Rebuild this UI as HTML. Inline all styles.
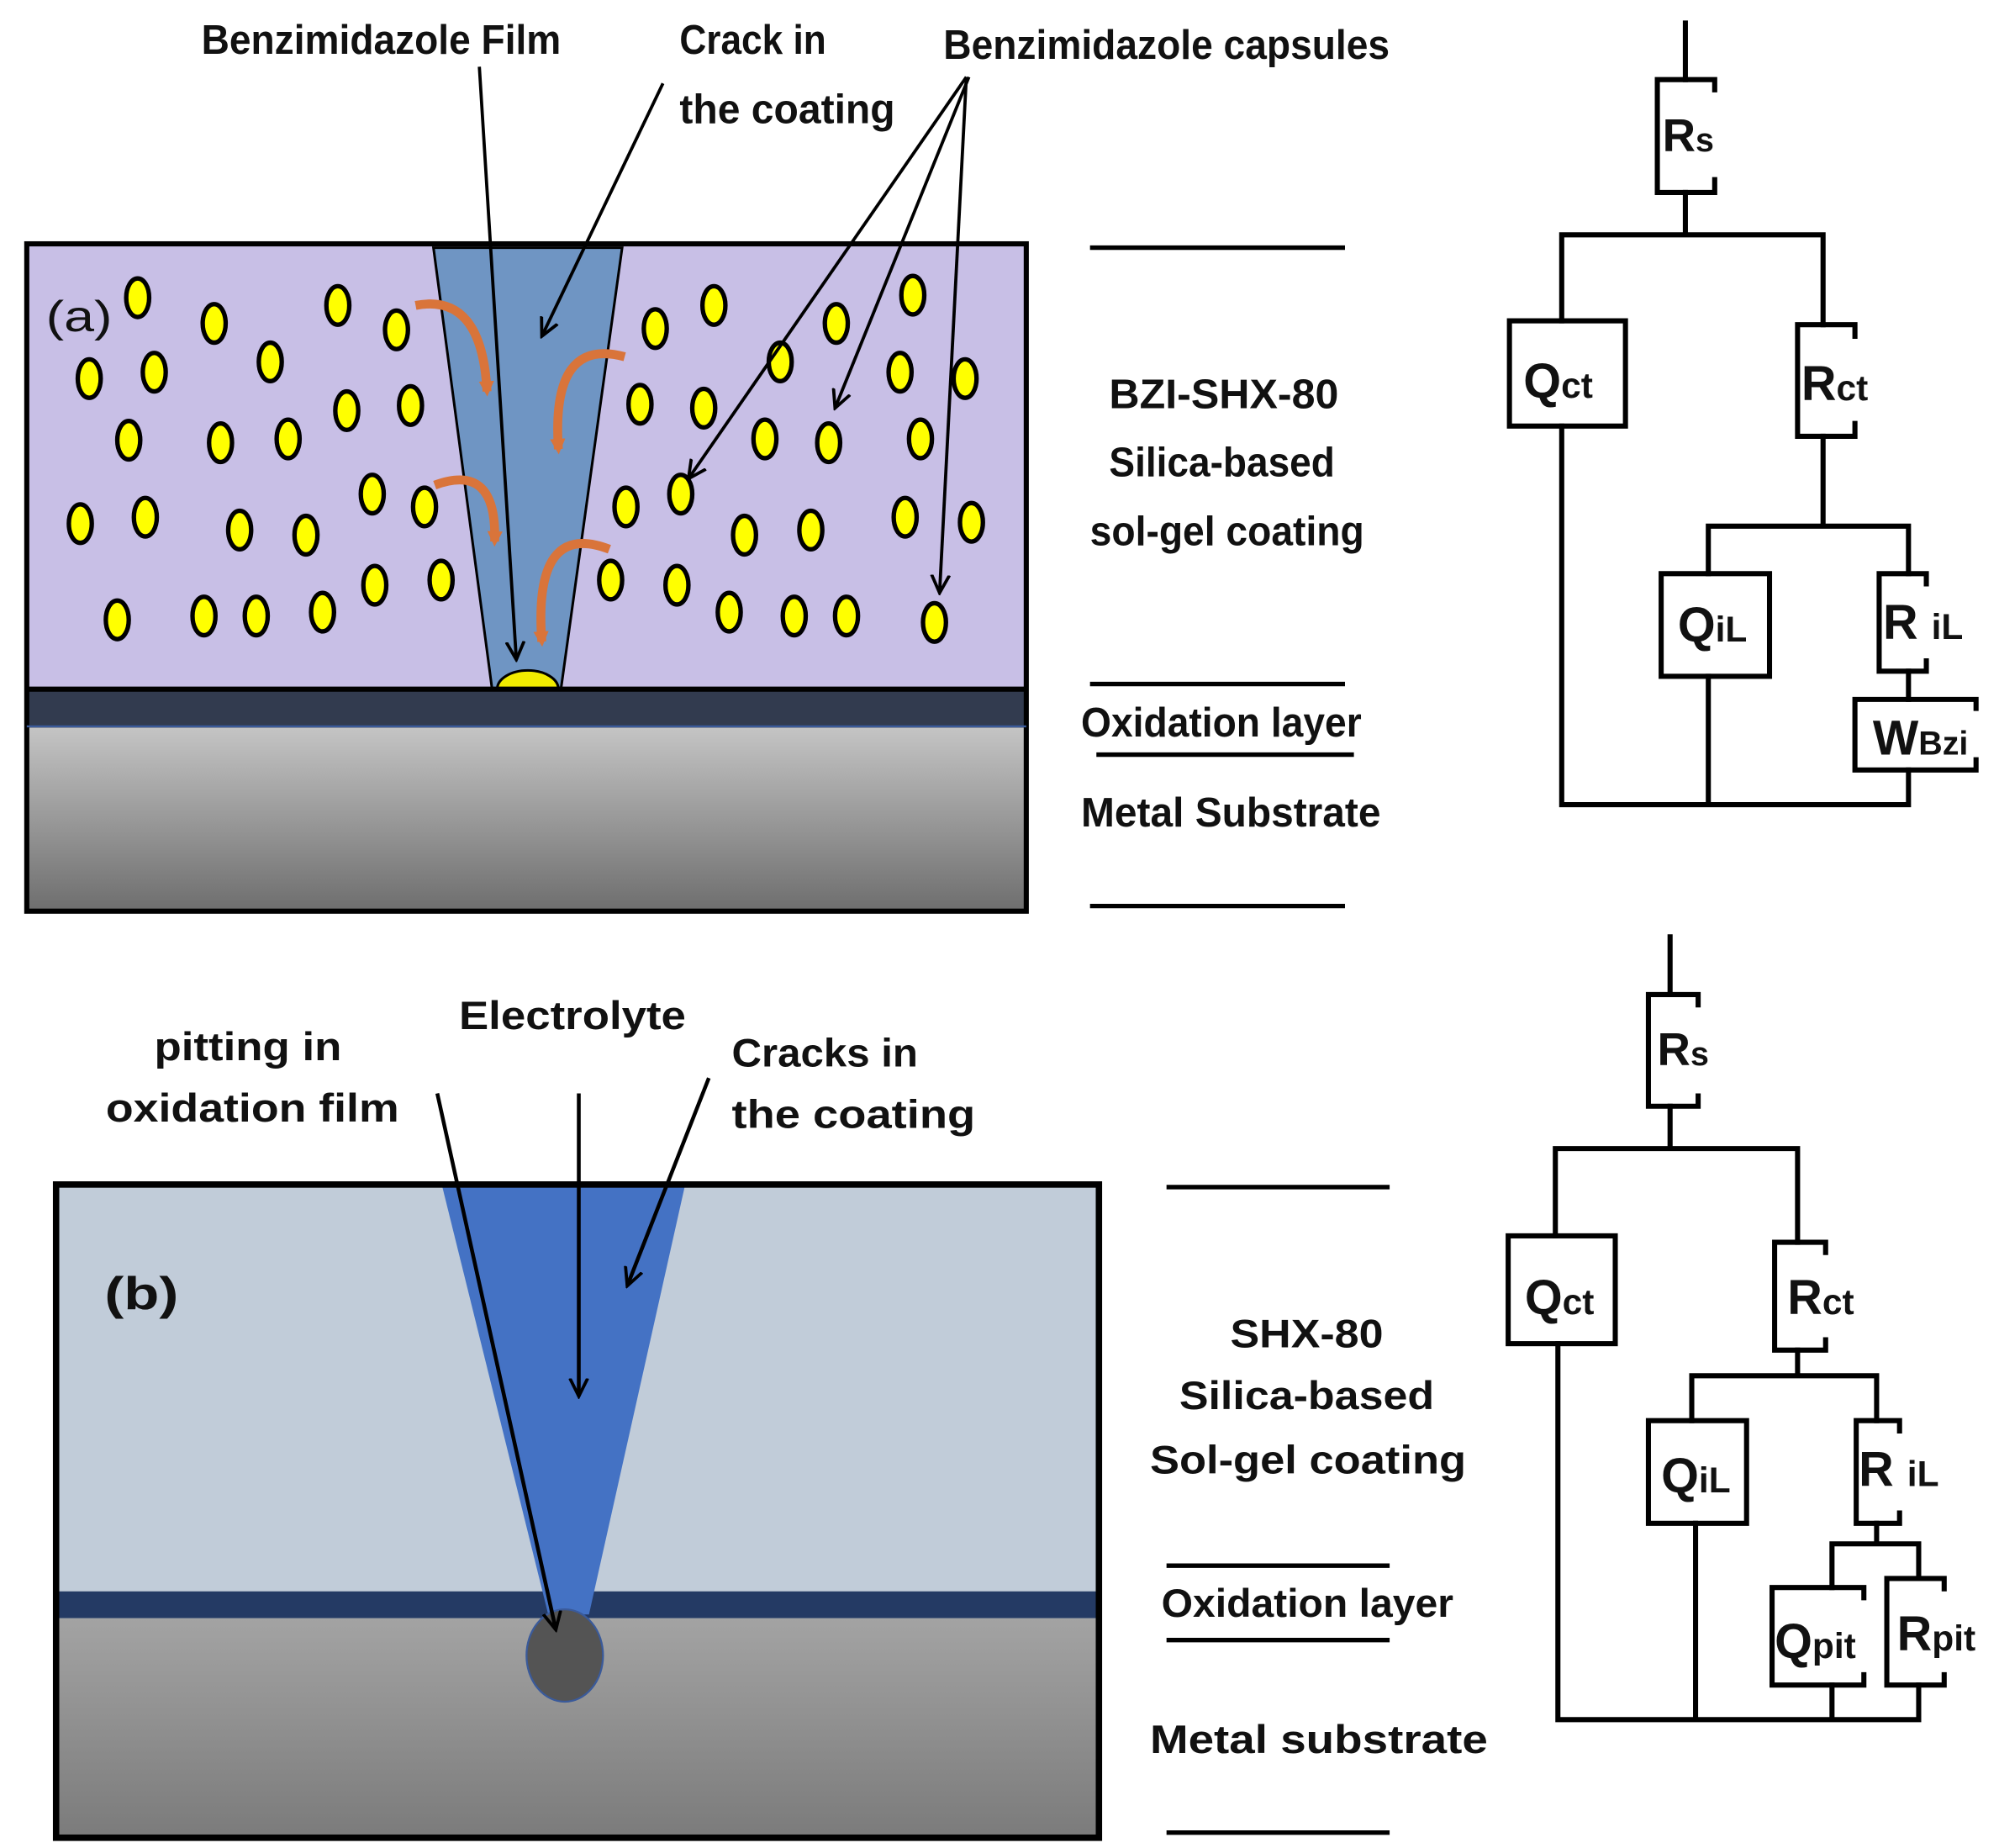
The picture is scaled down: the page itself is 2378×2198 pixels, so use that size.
<!DOCTYPE html>
<html><head><meta charset="utf-8"><style>html,body{margin:0;padding:0;background:#fff}svg{display:block}</style></head>
<body>
<svg width="2378" height="2198" viewBox="0 0 1568 1440" preserveAspectRatio="none" xmlns="http://www.w3.org/2000/svg">
<defs>
<linearGradient id="m1" x1="0" y1="0" x2="0" y2="1"><stop offset="0" stop-color="#c4c4c4"/><stop offset="1" stop-color="#6e6e6e"/></linearGradient>
<linearGradient id="m2" x1="0" y1="0" x2="0" y2="1"><stop offset="0" stop-color="#a3a3a3"/><stop offset="1" stop-color="#7b7b7b"/></linearGradient>
<marker id="ar" markerWidth="16" markerHeight="16" refX="14" refY="8" orient="auto" markerUnits="userSpaceOnUse"><path d="M0,1 L14,8 L0,15" fill="none" stroke="#000" stroke-width="2.5"/></marker>
<marker id="oa" markerWidth="14" markerHeight="14" refX="8" refY="7" orient="auto" markerUnits="userSpaceOnUse"><path d="M0,1 L12,7 L0,13 z" fill="#d9743a"/></marker>
</defs>
<g font-family="'Liberation Sans',sans-serif" font-weight="bold" fill="#111">
<!-- Panel a -->
<rect x="21" y="190" width="784" height="347" fill="#c8bfe6"/>
<rect x="21" y="537" width="784" height="30" fill="#323b4f"/>
<rect x="21" y="567" width="784" height="143" fill="url(#m1)"/>
<polygon points="340,193 488,193 440,537 386,537" fill="#6f95c3" stroke="#000" stroke-width="2"/>
<path d="M390,537 A23,14 0 0 1 438,537 Z" fill="#f2ec00" stroke="#000" stroke-width="2"/>
<rect x="21" y="190" width="784" height="520" fill="none" stroke="#000" stroke-width="4"/>
<line x1="21" y1="537" x2="805" y2="537" stroke="#000" stroke-width="4"/>
<line x1="21" y1="566" x2="805" y2="566" stroke="#3a5a9a" stroke-width="1.5"/>
<g fill="#ffff00" stroke="#000" stroke-width="3.5">
<ellipse cx="108" cy="232" rx="9" ry="15"/><ellipse cx="168" cy="252" rx="9" ry="15"/><ellipse cx="265" cy="238" rx="9" ry="15"/><ellipse cx="311" cy="257" rx="9" ry="15"/>
<ellipse cx="70" cy="295" rx="9" ry="15"/><ellipse cx="121" cy="290" rx="9" ry="15"/><ellipse cx="212" cy="282" rx="9" ry="15"/>
<ellipse cx="101" cy="343" rx="9" ry="15"/><ellipse cx="173" cy="345" rx="9" ry="15"/><ellipse cx="226" cy="342" rx="9" ry="15"/><ellipse cx="272" cy="320" rx="9" ry="15"/><ellipse cx="322" cy="316" rx="9" ry="15"/>
<ellipse cx="63" cy="408" rx="9" ry="15"/><ellipse cx="114" cy="403" rx="9" ry="15"/><ellipse cx="188" cy="413" rx="9" ry="15"/><ellipse cx="240" cy="417" rx="9" ry="15"/><ellipse cx="292" cy="385" rx="9" ry="15"/><ellipse cx="333" cy="395" rx="9" ry="15"/>
<ellipse cx="92" cy="483" rx="9" ry="15"/><ellipse cx="160" cy="480" rx="9" ry="15"/><ellipse cx="201" cy="480" rx="9" ry="15"/><ellipse cx="253" cy="477" rx="9" ry="15"/><ellipse cx="294" cy="456" rx="9" ry="15"/><ellipse cx="346" cy="452" rx="9" ry="15"/>
<ellipse cx="514" cy="256" rx="9" ry="15"/><ellipse cx="560" cy="238" rx="9" ry="15"/><ellipse cx="656" cy="252" rx="9" ry="15"/><ellipse cx="716" cy="230" rx="9" ry="15"/>
<ellipse cx="612" cy="282" rx="9" ry="15"/><ellipse cx="706" cy="290" rx="9" ry="15"/><ellipse cx="757" cy="295" rx="9" ry="15"/>
<ellipse cx="502" cy="315" rx="9" ry="15"/><ellipse cx="552" cy="318" rx="9" ry="15"/><ellipse cx="600" cy="342" rx="9" ry="15"/><ellipse cx="650" cy="345" rx="9" ry="15"/><ellipse cx="722" cy="342" rx="9" ry="15"/>
<ellipse cx="491" cy="395" rx="9" ry="15"/><ellipse cx="534" cy="385" rx="9" ry="15"/><ellipse cx="584" cy="417" rx="9" ry="15"/><ellipse cx="636" cy="413" rx="9" ry="15"/><ellipse cx="710" cy="403" rx="9" ry="15"/><ellipse cx="762" cy="407" rx="9" ry="15"/>
<ellipse cx="479" cy="452" rx="9" ry="15"/><ellipse cx="531" cy="456" rx="9" ry="15"/><ellipse cx="572" cy="477" rx="9" ry="15"/><ellipse cx="623" cy="480" rx="9" ry="15"/><ellipse cx="664" cy="480" rx="9" ry="15"/><ellipse cx="733" cy="485" rx="9" ry="15"/>
</g>
<g fill="none" stroke="#d9743a" stroke-width="7" marker-end="url(#oa)">
<path d="M326,238 Q378,228 382,305"/>
<path d="M490,278 Q432,262 438,350"/>
<path d="M341,378 Q390,360 388,422"/>
<path d="M478,428 Q418,405 425,500"/>
</g>
<text x="36" y="258" font-size="34" font-weight="normal" textLength="52" lengthAdjust="spacingAndGlyphs">(a)</text>
<!-- annotations a -->
<g font-size="32">
<text x="158" y="42" textLength="282" lengthAdjust="spacingAndGlyphs">Benzimidazole Film</text>
<text x="533" y="42" textLength="115" lengthAdjust="spacingAndGlyphs">Crack in</text>
<text x="533" y="96" textLength="169" lengthAdjust="spacingAndGlyphs">the coating</text>
<text x="740" y="46" textLength="350" lengthAdjust="spacingAndGlyphs">Benzimidazole capsules</text>
</g>
<g stroke="#000" stroke-width="2.5" fill="none" marker-end="url(#ar)">
<line x1="376" y1="52" x2="405" y2="514"/>
<line x1="520" y1="65" x2="425" y2="262"/>
<line x1="758" y1="60" x2="540" y2="373"/>
<line x1="760" y1="60" x2="655" y2="318"/>
<line x1="758" y1="60" x2="737" y2="462"/>
</g>
<!-- right side labels a -->
<g stroke="#000" stroke-width="3.5">
<line x1="855" y1="193" x2="1055" y2="193"/><line x1="855" y1="533" x2="1055" y2="533"/>
<line x1="860" y1="588" x2="1062" y2="588"/><line x1="855" y1="706" x2="1055" y2="706"/>
</g>
<g font-size="32">
<text x="870" y="318" textLength="180" lengthAdjust="spacingAndGlyphs">BZI-SHX-80</text>
<text x="870" y="371" textLength="177" lengthAdjust="spacingAndGlyphs">Silica-based</text>
<text x="855" y="425" textLength="215" lengthAdjust="spacingAndGlyphs">sol-gel coating</text>
<text x="848" y="574" textLength="220" lengthAdjust="spacingAndGlyphs">Oxidation layer</text>
<text x="848" y="644" textLength="235" lengthAdjust="spacingAndGlyphs">Metal Substrate</text>
</g>
<!-- Panel b -->
<rect x="44" y="923" width="818" height="317" fill="#c1ccd9"/>
<rect x="44" y="1240" width="818" height="21" fill="#243a64"/>
<rect x="44" y="1261" width="818" height="171" fill="url(#m2)"/>
<polygon points="347,925 537,925 462,1258 430,1258" fill="#4472c4"/>
<ellipse cx="443" cy="1290" rx="30" ry="36" fill="#545454" stroke="#3a5a9a" stroke-width="1.5"/>
<rect x="44" y="923" width="818" height="509" fill="none" stroke="#000" stroke-width="5"/>
<text x="82" y="1020" font-size="36" textLength="58" lengthAdjust="spacingAndGlyphs">(b)</text>
<g font-size="31">
<text x="121" y="826" textLength="147" lengthAdjust="spacingAndGlyphs">pitting in</text>
<text x="83" y="874" textLength="230" lengthAdjust="spacingAndGlyphs">oxidation film</text>
<text x="360" y="802" textLength="178" lengthAdjust="spacingAndGlyphs">Electrolyte</text>
<text x="574" y="831" textLength="146" lengthAdjust="spacingAndGlyphs">Cracks in</text>
<text x="574" y="879" textLength="191" lengthAdjust="spacingAndGlyphs">the coating</text>
</g>
<g stroke="#000" stroke-width="3" fill="none" marker-end="url(#ar)">
<line x1="343" y1="852" x2="436" y2="1270"/>
<line x1="454" y1="852" x2="454" y2="1088"/>
<line x1="556" y1="840" x2="492" y2="1002"/>
</g>
<g stroke="#000" stroke-width="3.5">
<line x1="915" y1="925" x2="1090" y2="925"/><line x1="915" y1="1220" x2="1090" y2="1220"/>
<line x1="915" y1="1278" x2="1090" y2="1278"/><line x1="915" y1="1428" x2="1090" y2="1428"/>
</g>
<g font-size="31">
<text x="965" y="1050" textLength="120" lengthAdjust="spacingAndGlyphs">SHX-80</text>
<text x="925" y="1098" textLength="200" lengthAdjust="spacingAndGlyphs">Silica-based</text>
<text x="902" y="1148" textLength="248" lengthAdjust="spacingAndGlyphs">Sol-gel coating</text>
<text x="911" y="1260" textLength="229" lengthAdjust="spacingAndGlyphs">Oxidation layer</text>
<text x="902" y="1366" textLength="265" lengthAdjust="spacingAndGlyphs">Metal substrate</text>
</g>
</g>
<!-- circuits -->
<g fill="none" stroke="#000" stroke-width="4" stroke-linecap="square">
<path d="M1322,18 V62"/>
<path d="M1345,70 V62 H1300 V150 H1345 V140"/>
<path d="M1322,150 V183 M1225,183 H1430 M1225,183 V250 M1430,183 V253"/>
<rect x="1184" y="250" width="91" height="82"/>
<path d="M1455,262 V253 H1410 V340 H1455 V330"/>
<path d="M1430,340 V410 M1340,410 H1497 M1340,410 V447 M1497,410 V447"/>
<rect x="1303" y="447" width="85" height="80"/>
<path d="M1511,455 V447 H1474 V523 H1511 V515"/>
<path d="M1497,523 V545"/>
<path d="M1550,552 V545 H1455 V600 H1550 V592"/>
<path d="M1225,332 V627 H1497 V600 M1340,527 V627"/>
<path d="M1310,730 V775"/>
<path d="M1332,783 V775 H1293 V862 H1332 V854"/>
<path d="M1310,862 V895 M1220,895 H1410 M1220,895 V963 M1410,895 V968"/>
<rect x="1183" y="963" width="84" height="84"/>
<path d="M1432,976 V968 H1392 V1052 H1432 V1044"/>
<path d="M1410,1052 V1072 M1327,1072 H1472 M1327,1072 V1107 M1472,1072 V1107"/>
<rect x="1293" y="1107" width="77" height="80"/>
<path d="M1490,1115 V1107 H1456 V1187 H1490 V1179"/>
<path d="M1472,1187 V1203 M1437,1203 H1505 M1437,1203 V1237 M1505,1203 V1230"/>
<path d="M1462,1245 V1237 H1390 V1313 H1462 V1305"/>
<path d="M1525,1238 V1230 H1480 V1313 H1525 V1305"/>
<path d="M1222,1047 V1340 H1505 V1313 M1330,1187 V1340 M1437,1313 V1340"/>
</g>
<g font-family="'Liberation Sans',sans-serif" font-weight="bold" fill="#111">
<text x="1304" y="118" font-size="36">R<tspan font-size="26">s</tspan></text>
<text x="1195" y="310" font-size="38">Q<tspan font-size="28">ct</tspan></text>
<text x="1413" y="312" font-size="38">R<tspan font-size="28">ct</tspan></text>
<text x="1316" y="500" font-size="38">Q<tspan font-size="28">iL</tspan></text>
<text x="1477" y="498" font-size="38">R <tspan font-size="28">iL</tspan></text>
<text x="1469" y="588" font-size="38">W<tspan font-size="26">Bzi</tspan></text>
<text x="1300" y="830" font-size="36">R<tspan font-size="26">s</tspan></text>
<text x="1196" y="1024" font-size="38">Q<tspan font-size="28">ct</tspan></text>
<text x="1402" y="1024" font-size="38">R<tspan font-size="28">ct</tspan></text>
<text x="1303" y="1163" font-size="38">Q<tspan font-size="28">iL</tspan></text>
<text x="1458" y="1158" font-size="38">R <tspan font-size="28">iL</tspan></text>
<text x="1392" y="1292" font-size="38">Q<tspan font-size="28">pit</tspan></text>
<text x="1488" y="1286" font-size="38">R<tspan font-size="28">pit</tspan></text>
</g>
</svg>
</body></html>
